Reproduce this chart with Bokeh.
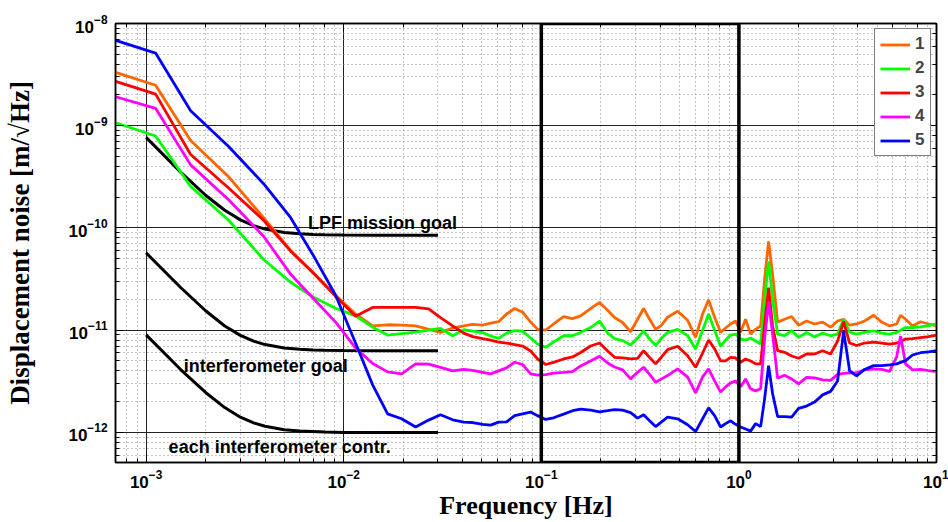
from bokeh.plotting import figure
from bokeh.models import LogAxis, CustomJSTickFormatter, BoxAnnotation
from bokeh.core.properties import value
from bokeh.embed import file_html
from bokeh.resources import INLINE

# ---------------- data ----------------
freq = [7.01e-4, 1.117e-3, 1.680e-3, 2.615e-3, 3.93e-3, 5.39e-3,
        7.04e-3, 9.10e-3, 1.148e-2, 1.401e-2, 1.668e-2, 1.963e-2, 2.312e-2, 2.69e-2, 3.09e-2,
        3.56e-2, 4.05e-2, 4.49e-2, 5.05e-2, 5.54e-2, 6.08e-2, 6.67e-2, 7.33e-2, 8.04e-2, 8.83e-2, 9.58e-2,
        0.1052, 0.1154, 0.1297, 0.1440, 0.1581, 0.1776, 0.1972, 0.2166, 0.2349, 0.2579, 0.2830,
        0.3071, 0.3294, 0.3533, 0.3788, 0.4062, 0.4357, 0.4898, 0.5502, 0.6037, 0.6551, 0.7025,
        0.7534, 0.8080, 0.8563, 0.9078, 0.9623, 1.020, 1.081, 1.146, 1.215, 1.288,
        1.349, 1.413, 1.481, 1.570, 1.703, 1.848, 2.005, 2.200, 2.416, 2.652,
        2.911, 3.158, 3.388, 3.633, 3.941, 4.325, 4.806, 5.277, 5.791, 6.284,
        6.582, 6.975, 7.568, 8.309, 9.120, 10.0]

noise_1 = [3.33e-9, 2.49e-9, 7.18e-10, 3.17e-10, 1.26e-10, 6.03e-11,
           3.60e-11, 2.20e-11, 1.44e-11, 1.10e-11, 1.13e-11, 1.12e-11, 1.10e-11, 1.02e-11, 9.52e-12,
           1.05e-11, 1.10e-11, 1.14e-11, 1.12e-11, 1.17e-11, 1.21e-11, 1.44e-11, 1.63e-11, 1.50e-11, 1.20e-11, 1.02e-11,
           1.00e-11, 1.15e-11, 1.36e-11, 1.30e-11, 1.38e-11, 1.63e-11, 1.87e-11, 1.57e-11, 1.33e-11, 1.19e-11, 9.65e-12,
           1.28e-11, 1.63e-11, 1.28e-11, 1.02e-11, 1.12e-11, 1.34e-11, 1.53e-11, 1.25e-11, 8.51e-12, 1.44e-11, 1.98e-11,
           1.34e-11, 9.52e-12, 1.05e-11, 1.15e-11, 1.23e-11, 9.58e-12, 1.28e-11, 9.16e-12, 1.02e-11, 1.10e-11,
           3.15e-11, 7.37e-11, 3.52e-11, 1.20e-11, 1.28e-11, 1.36e-11, 1.12e-11, 1.23e-11, 1.15e-11, 1.20e-11,
           1.07e-11, 1.23e-11, 1.28e-11, 1.12e-11, 1.15e-11, 1.23e-11, 1.40e-11, 1.20e-11, 1.10e-11, 1.15e-11,
           1.40e-11, 1.28e-11, 1.10e-11, 1.21e-11, 1.15e-11, 1.10e-11]

noise_2 = [1.07e-9, 7.94e-10, 2.55e-10, 1.19e-10, 4.92e-11, 2.94e-11,
           2.10e-11, 1.64e-11, 1.38e-11, 1.07e-11, 8.96e-12, 9.27e-12, 9.58e-12, 1.00e-11, 1.04e-11,
           8.82e-12, 1.01e-11, 9.80e-12, 9.48e-12, 8.76e-12, 8.32e-12, 9.37e-12, 9.91e-12, 9.80e-12, 8.38e-12, 7.32e-12,
           6.80e-12, 7.66e-12, 8.82e-12, 8.82e-12, 9.48e-12, 1.06e-11, 1.23e-11, 9.37e-12, 8.28e-12, 7.92e-12, 7.16e-12,
           8.38e-12, 9.87e-12, 8.19e-12, 7.08e-12, 8.38e-12, 9.52e-12, 1.02e-11, 8.82e-12, 6.55e-12, 1.00e-11, 1.44e-11,
           1.00e-11, 6.96e-12, 8.01e-12, 8.96e-12, 9.16e-12, 8.19e-12, 8.01e-12, 8.38e-12, 7.83e-12, 7.32e-12,
           2.01e-11, 4.71e-11, 2.01e-11, 9.16e-12, 8.86e-12, 9.87e-12, 8.51e-12, 9.48e-12, 8.57e-12, 9.37e-12,
           8.82e-12, 9.16e-12, 1.28e-11, 9.58e-12, 9.16e-12, 9.52e-12, 9.87e-12, 9.37e-12, 9.16e-12, 9.52e-12,
           1.00e-11, 1.06e-11, 1.06e-11, 1.08e-11, 1.11e-11, 1.15e-11]

noise_3 = [2.72e-9, 2.04e-9, 5.24e-10, 2.46e-10, 1.19e-10, 5.93e-11,
           3.60e-11, 2.15e-11, 1.37e-11, 1.67e-11, 1.67e-11, 1.67e-11, 1.67e-11, 1.62e-11, 1.33e-11,
           1.10e-11, 9.37e-12, 8.66e-12, 8.28e-12, 8.01e-12, 7.66e-12, 7.49e-12, 7.24e-12, 7.00e-12, 6.26e-12, 5.23e-12,
           4.62e-12, 4.84e-12, 5.23e-12, 5.47e-12, 6.05e-12, 7.00e-12, 7.49e-12, 6.26e-12, 5.43e-12, 5.35e-12, 5.23e-12,
           5.29e-12, 6.30e-12, 5.40e-12, 4.68e-12, 5.47e-12, 6.45e-12, 6.96e-12, 5.63e-12, 4.34e-12, 5.98e-12, 8.01e-12,
           6.55e-12, 5.00e-12, 5.00e-12, 5.43e-12, 5.35e-12, 4.86e-12, 5.23e-12, 5.00e-12, 4.68e-12, 4.68e-12,
           1.15e-11, 2.61e-11, 1.10e-11, 6.30e-12, 6.08e-12, 5.59e-12, 5.32e-12, 5.85e-12, 5.85e-12, 6.30e-12,
           5.85e-12, 7.83e-12, 1.21e-11, 7.49e-12, 7.08e-12, 7.49e-12, 7.66e-12, 7.49e-12, 7.32e-12, 7.49e-12,
           7.74e-12, 8.19e-12, 8.28e-12, 8.47e-12, 8.66e-12, 8.96e-12]

noise_4 = [1.92e-9, 1.48e-9, 4.14e-10, 1.89e-10, 8.30e-11, 3.52e-11,
           2.03e-11, 1.20e-11, 6.70e-12, 4.73e-12, 3.91e-12, 3.74e-12, 4.68e-12, 4.65e-12, 4.32e-12,
           4.00e-12, 4.13e-12, 4.04e-12, 3.87e-12, 3.74e-12, 4.00e-12, 4.28e-12, 4.86e-12, 4.62e-12, 3.74e-12, 3.63e-12,
           3.68e-12, 3.80e-12, 3.87e-12, 3.94e-12, 4.47e-12, 5.00e-12, 5.56e-12, 4.78e-12, 4.37e-12, 4.09e-12, 3.34e-12,
           3.87e-12, 4.34e-12, 3.70e-12, 3.10e-12, 3.34e-12, 3.60e-12, 4.18e-12, 3.47e-12, 2.44e-12, 3.49e-12, 4.18e-12,
           3.19e-12, 2.48e-12, 2.79e-12, 3.05e-12, 3.19e-12, 2.79e-12, 3.34e-12, 2.67e-12, 2.55e-12, 2.67e-12,
           8.19e-12, 1.89e-11, 9.16e-12, 3.39e-12, 3.62e-12, 3.34e-12, 2.99e-12, 3.45e-12, 3.41e-12, 3.27e-12,
           3.23e-12, 3.70e-12, 3.78e-12, 3.83e-12, 3.83e-12, 4.09e-12, 4.18e-12, 4.13e-12, 3.96e-12, 5.47e-12,
           8.76e-12, 4.68e-12, 4.09e-12, 4.13e-12, 4.03e-12, 3.94e-12]

noise_5 = [6.83e-9, 5.14e-9, 1.40e-9, 6.27e-10, 2.71e-10, 1.26e-10,
           5.33e-11, 2.20e-11, 7.49e-12, 2.92e-12, 1.52e-12, 1.36e-12, 1.13e-12, 1.32e-12, 1.49e-12,
           1.33e-12, 1.26e-12, 1.25e-12, 1.20e-12, 1.18e-12, 1.26e-12, 1.27e-12, 1.46e-12, 1.52e-12, 1.58e-12, 1.46e-12,
           1.34e-12, 1.39e-12, 1.51e-12, 1.63e-12, 1.69e-12, 1.65e-12, 1.59e-12, 1.63e-12, 1.67e-12, 1.65e-12, 1.56e-12,
           1.38e-12, 1.49e-12, 1.30e-12, 1.14e-12, 1.27e-12, 1.41e-12, 1.36e-12, 1.19e-12, 1.02e-12, 1.36e-12, 1.74e-12,
           1.46e-12, 1.13e-12, 1.22e-12, 1.30e-12, 1.20e-12, 1.13e-12, 1.08e-12, 1.03e-12, 1.22e-12, 1.14e-12,
           2.13e-12, 4.50e-12, 2.39e-12, 1.43e-12, 1.43e-12, 1.41e-12, 1.72e-12, 1.81e-12, 1.98e-12, 2.33e-12,
           2.52e-12, 3.19e-12, 9.80e-12, 4.00e-12, 3.57e-12, 4.13e-12, 4.50e-12, 4.50e-12, 4.57e-12, 4.68e-12,
           4.84e-12, 5.04e-12, 5.72e-12, 6.02e-12, 6.15e-12, 6.30e-12]

series_labels = ["1", "2", "3", "4", "5"]
series_colors = ["#ff6600", "#00ff00", "#ff0000", "#ff00ff", "#0000ff"]

goal_freq = [1e-3, 1.5e-3, 2e-3, 2.5e-3, 3e-3, 3.5e-3, 4e-3, 5e-3, 6e-3, 7e-3, 8e-3, 1e-2, 1.5e-2, 2e-2, 3e-2]
lpf_goal = [7.7e-10, 3.5e-10, 2.09e-10, 1.49e-10, 1.20e-10, 1.055e-10, 9.75e-11, 9.04e-11, 8.76e-11,
            8.64e-11, 8.58e-11, 8.53e-11, 8.51e-11, 8.5e-11, 8.5e-11]
ifo_goal = [5.7e-11, 2.6e-11, 1.55e-11, 1.10e-11, 8.9e-12, 7.82e-12, 7.23e-12, 6.70e-12, 6.50e-12,
            6.41e-12, 6.36e-12, 6.33e-12, 6.31e-12, 6.3e-12, 6.3e-12]
ifo_contr = [9.0e-12, 4.1e-12, 2.46e-12, 1.75e-12, 1.41e-12, 1.24e-12, 1.15e-12, 1.06e-12, 1.03e-12,
             1.02e-12, 1.01e-12, 1.0e-12, 1.0e-12, 1.0e-12, 1.0e-12]

note_text = ["LPF mission goal", "interferometer goal", "each interferometer contr."]
note_x = [6.6e-3, 1.55e-3, 1.30e-3]
note_y = [1.13e-10, 4.5e-12, 7.2e-13]

# ---------------- figure ----------------
p = figure(width=948, height=522, x_axis_type="log", y_axis_type="log",
           x_range=(7.0e-4, 10.0), y_range=(5.08e-13, 1e-8),
           output_backend="svg", toolbar_location=None,
           min_border_left=115, min_border_right=12, min_border_top=23, min_border_bottom=58)
p.background_fill_color = "white"
p.border_fill_color = "white"
p.outline_line_color = "black"
p.outline_line_width = 1.5

p.grid.grid_line_color = "#222222"
p.grid.grid_line_width = 1
p.grid.minor_grid_line_color = "#8a8a8a"
p.grid.minor_grid_line_dash = "1 3"

for ax in list(p.xaxis) + list(p.yaxis):
    ax.major_label_text_font = "Liberation Sans"
    ax.major_label_text_font_style = "bold"
    ax.major_label_text_font_size = "17px"
    ax.major_label_text_color = "black"
    ax.major_tick_in = 8
    ax.major_tick_out = 0
    ax.minor_tick_in = 4
    ax.minor_tick_out = 0
    ax.axis_line_width = 1.5
    ax.axis_label_text_font = "Liberation Serif"
    ax.axis_label_text_font_style = "bold"
    ax.axis_label_text_font_size = "27px"
    ax.axis_label_text_color = "black"

p.xaxis.axis_label = "Frequency [Hz]"
p.xaxis.axis_label_text_font_size = "26px"
p.xaxis.major_label_standoff = 7
p.xaxis.axis_label_standoff = 0
p.yaxis.axis_label = "Displacement noise [m/\u221aHz]"
p.yaxis.major_label_standoff = 8
p.yaxis.axis_label_standoff = 30

for loc in ["right", "above"]:
    ax = LogAxis(formatter=CustomJSTickFormatter(code="return ''"),
                 major_tick_in=8, major_tick_out=0, minor_tick_in=4, minor_tick_out=0,
                 major_label_standoff=0, axis_line_width=1.5)
    p.add_layout(ax, loc)

# goal curves
for g in [lpf_goal, ifo_goal, ifo_contr]:
    p.line(goal_freq, g, line_color="black", line_width=3)

# measured spectra
for vals, lab, col in zip([noise_1, noise_2, noise_3, noise_4, noise_5], series_labels, series_colors):
    p.line(freq, vals, line_color=col, line_width=2.8, legend_label=lab)

# highlighted band
box = BoxAnnotation(left=0.1, right=1.0, fill_color=None, fill_alpha=0,
                    line_color="black", line_alpha=1.0, line_width=3.5)
p.add_layout(box)

p.text(x=note_x, y=note_y, text=note_text, text_font=value("Liberation Sans"),
       text_font_style="bold", text_font_size="18px", text_color="black",
       text_baseline="alphabetic", text_align="left")

lg = p.legend[0]
lg.location = "top_right"
lg.margin = 5
lg.border_line_color = "black"
lg.border_line_width = 1
lg.background_fill_color = "white"
lg.background_fill_alpha = 1
lg.label_text_font = "Liberation Sans"
lg.label_text_font_style = "bold"
lg.label_text_font_size = "17px"
lg.glyph_width = 30
lg.glyph_height = 19
lg.label_height = 19
lg.label_width = 10
lg.label_standoff = 5
lg.spacing = 4
lg.padding = 5

open("out.html", "w").write(file_html(p, INLINE))
